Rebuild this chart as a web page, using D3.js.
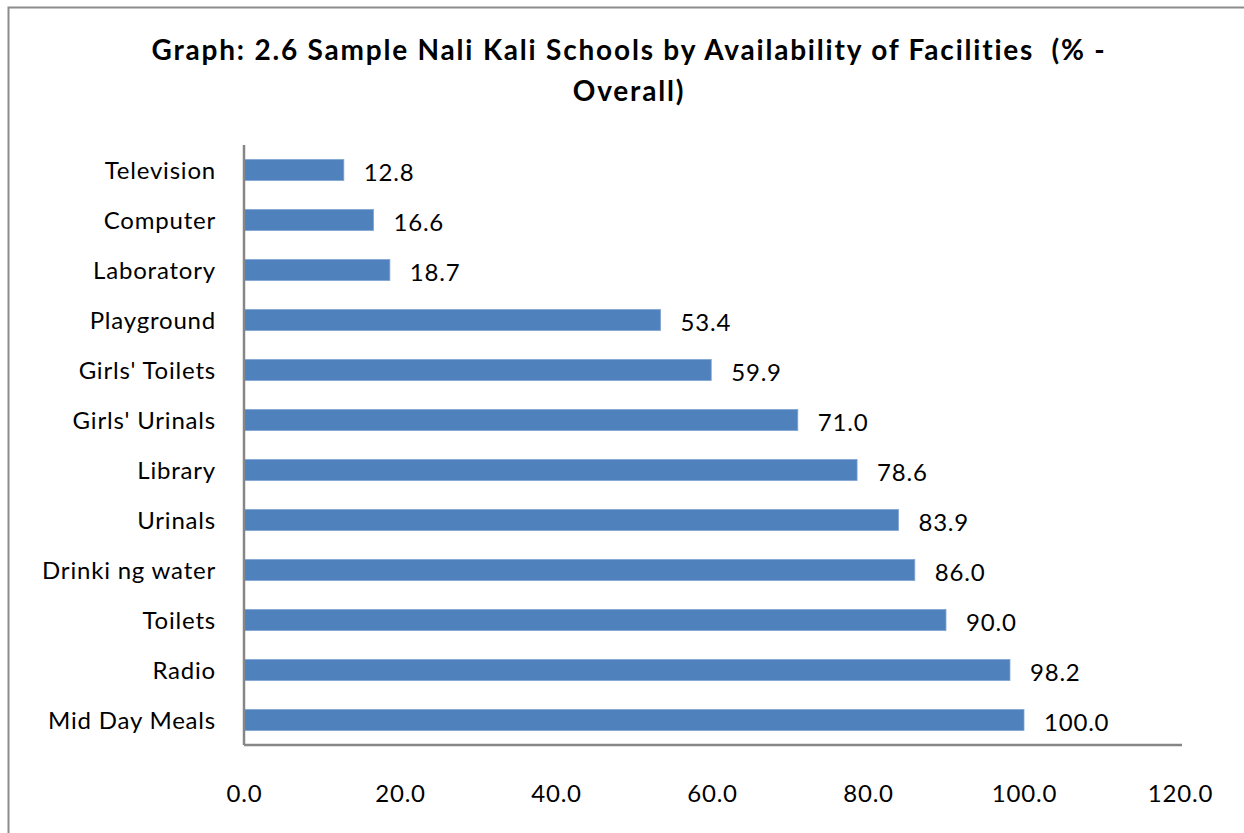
<!DOCTYPE html>
<html>
<head>
<meta charset="utf-8">
<script src="https://cdn.jsdelivr.net/npm/d3@7"></script>
<style>
  html, body { margin: 0; padding: 0; background: #fff; }
  svg { display: block; }
  text { font-family: Lato, "Open Sans", "Liberation Sans", sans-serif; fill: #000; }
</style>
</head>
<body>
<svg id="chart" width="1244" height="833"></svg>
<script>
// Facilities (top to bottom) and share of sample schools that have them (%)
const facilities = ["Television", "Computer", "Laboratory", "Playground", "Girls' Toilets",
  "Girls' Urinals", "Library", "Urinals", "Drinki ng water", "Toilets", "Radio", "Mid Day Meals"];
const percentages = [12.8, 16.6, 18.7, 53.4, 59.9, 71.0, 78.6, 83.9, 86.0, 90.0, 98.2, 100.0];
const xTicks = [0, 20, 40, 60, 80, 100, 120];
const titleLines = ["Graph: 2.6 Sample Nali Kali Schools by Availability of Facilities  (% -", "Overall)"];

const svg = d3.select("#chart");
const W = 1244, H = 833;
const plot = { left: 244, right: 1180, top: 145, bottom: 745 };
const FONT = "Lato, 'Open Sans', 'Liberation Sans', sans-serif";

// outer chart frame
svg.append("rect")
  .attr("x", 8.5).attr("y", 7.5)
  .attr("width", W + 20).attr("height", H + 20)
  .attr("fill", "#fff").attr("stroke", "#8c8c8c").attr("stroke-width", 2);

const x = d3.scaleLinear().domain([0, 120]).range([plot.left, plot.right]);
const y = d3.scaleBand().domain(facilities).range([plot.top, plot.bottom]).paddingInner(0.58).paddingOuter(0.29);

// title
svg.append("g").selectAll("text").data(titleLines).join("text")
  .attr("x", 629).attr("y", (d, i) => 60 + i * 41)
  .attr("text-anchor", "middle")
  .attr("font-size", 28).attr("font-weight", "bold")
  .style("letter-spacing", "1.8px").style("white-space", "pre")
  .text(d => d);

// bars
svg.append("g").selectAll("rect").data(percentages).join("rect")
  .attr("x", x(0))
  .attr("y", (d, i) => y(facilities[i]))
  .attr("width", d => x(d) - x(0))
  .attr("height", y.bandwidth())
  .attr("fill", "#4F81BD")
  .attr("stroke", "#7EA3D3").attr("stroke-width", 0.8);

// value labels
svg.append("g").selectAll("text").data(percentages).join("text")
  .attr("x", d => x(d) + 20)
  .attr("y", (d, i) => y(facilities[i]) + y.bandwidth() / 2 + 11)
  .attr("font-size", 24).style("letter-spacing", "0.8px")
  .text(d => d.toFixed(1));

// category axis
const yAxis = d3.axisLeft(y).tickSize(0).tickPadding(28);
const gy = svg.append("g").attr("transform", `translate(${plot.left},0)`).call(yAxis);
gy.select(".domain").attr("stroke", "#868686").attr("stroke-width", 2.5)
  .attr("d", `M0,${plot.top}V${plot.bottom}`);
gy.selectAll(".tick text").attr("font-size", 24).attr("dy", "0.38em")
  .style("font-family", FONT).style("letter-spacing", "0.8px").attr("fill", "#000");

// value axis
const xAxis = d3.axisBottom(x).tickValues(xTicks).tickSize(0).tickPadding(40).tickFormat(d3.format(".1f"));
const gx = svg.append("g").attr("transform", `translate(0,${plot.bottom})`).call(xAxis);
gx.select(".domain").attr("stroke", "#868686").attr("stroke-width", 2.5)
  .attr("d", `M${plot.left},0H${plot.right + 2}`);
gx.selectAll(".tick text").attr("font-size", 24)
  .style("font-family", FONT).style("letter-spacing", "0.8px").attr("fill", "#000");
</script>
</body>
</html>
